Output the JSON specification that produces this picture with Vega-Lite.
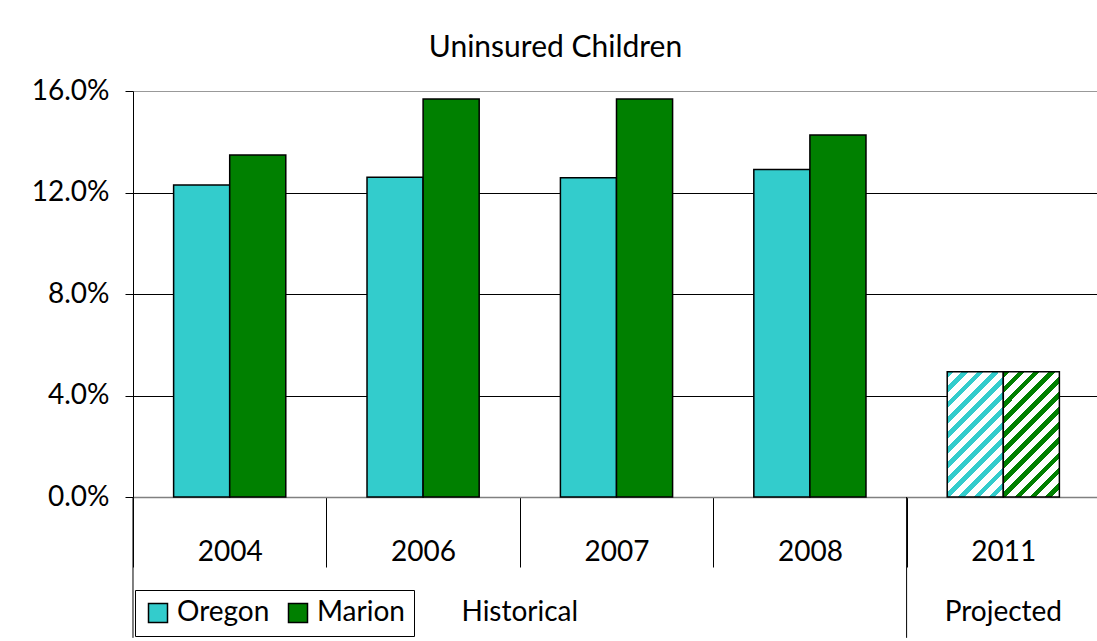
{
  "$schema": "https://vega.github.io/schema/vega-lite/v6.json",
  "autosize": "none",
  "width": 967,
  "height": 406,
  "padding": {"left": 133, "top": 91, "right": 0, "bottom": 144},
  "background": "white",
  "title": {"text": "Uninsured Children", "fontSize": 30, "font": "Lato", "fontWeight": "normal", "color": "black", "baseline": "alphabetic", "offset": -10, "dx": -61},
  "config": {
    "font": "Lato",
    "view": {"stroke": null},
    "legend": {"symbolStrokeColor": "black", "symbolStrokeWidth": 1.5}
  },
  "datasets": {
    "bars": [
      {"year": "2004", "series": "Oregon", "value": 0.123, "type": "Historical"},
      {"year": "2004", "series": "Marion", "value": 0.1348, "type": "Historical"},
      {"year": "2006", "series": "Oregon", "value": 0.126, "type": "Historical"},
      {"year": "2006", "series": "Marion", "value": 0.1568, "type": "Historical"},
      {"year": "2007", "series": "Oregon", "value": 0.1258, "type": "Historical"},
      {"year": "2007", "series": "Marion", "value": 0.1568, "type": "Historical"},
      {"year": "2008", "series": "Oregon", "value": 0.1291, "type": "Historical"},
      {"year": "2008", "series": "Marion", "value": 0.1427, "type": "Historical"},
      {"year": "2011", "series": "Oregon", "value": 0.0494, "type": "Projected"},
      {"year": "2011", "series": "Marion", "value": 0.0494, "type": "Projected"}
    ]
  },
  "encoding": {
    "x": {"field": "year", "type": "nominal", "sort": ["2004", "2006", "2007", "2008", "2011"],
      "scale": {"domain": ["2004", "2006", "2007", "2008", "2011"], "paddingInner": 0.42, "paddingOuter": 0.21},
      "axis": {"title": null, "labelAngle": 0, "labelFontSize": 28, "labelColor": "black", "labelFont": "Lato",
        "domainColor": "#808080", "domainWidth": 1.5, "tickColor": "black", "tickSize": 70, "tickOffset": -96.7, "labelOffset": 96.7, "labelPadding": -29}
    }
  },
  "layer": [
    {
      "data": {"name": "bars"},
      "transform": [{"filter": "datum.type === 'Historical'"}],
      "mark": {"type": "bar", "stroke": "black", "strokeWidth": 1.5},
      "encoding": {
        "y": {"field": "value", "type": "quantitative",
          "scale": {"domain": [0, 0.16], "nice": false},
          "axis": {"title": null, "values": [0, 0.04, 0.08, 0.12, 0.16], "format": ".1%", "labelFontSize": 28, "labelColor": "black", "labelFont": "Lato",
            "domainColor": "black", "tickColor": "black", "tickSize": 8, "labelPadding": 16,
            "grid": true, "gridColor": {"condition": {"test": "datum.value >= 0.159", "value": "#999999"}, "value": "black"}, "gridWidth": 1, "gridOpacity": 1}
        },
        "xOffset": {"field": "series", "type": "nominal", "scale": {"domain": ["Oregon", "Marion"]}},
        "color": {"field": "series", "type": "nominal",
          "scale": {"domain": ["Oregon", "Marion"], "range": ["#33CCCC", "#008000"]},
          "legend": {"title": null, "orient": "none", "legendX": 2, "legendY": 499, "direction": "horizontal",
            "strokeColor": "black", "fillColor": "white", "padding": 9, "symbolType": "square", "symbolSize": 361,
            "labelFontSize": 28, "labelFont": "Lato", "labelColor": "black", "labelOffset": 5, "columnPadding": 14, "symbolOpacity": 1}
        }
      }
    },
    {
      "data": {"name": "bars"},
      "transform": [{"filter": "datum.type === 'Projected' && datum.series === 'Oregon'"}],
      "mark": {"type": "bar", "stroke": "black", "strokeWidth": 1.5,
        "fill": {"gradient": "linear", "x1": 0, "y1": 0, "x2": 0.54, "y2": 1.206, "stops": [
          {"offset": 0, "color": "#33CCCC"}, {"offset": 0.0375, "color": "#33CCCC"}, {"offset": 0.0375, "color": "white"}, {"offset": 0.0833, "color": "white"},
          {"offset": 0.0833, "color": "#33CCCC"}, {"offset": 0.1208, "color": "#33CCCC"}, {"offset": 0.1208, "color": "white"}, {"offset": 0.1667, "color": "white"},
          {"offset": 0.1667, "color": "#33CCCC"}, {"offset": 0.2042, "color": "#33CCCC"}, {"offset": 0.2042, "color": "white"}, {"offset": 0.25, "color": "white"},
          {"offset": 0.25, "color": "#33CCCC"}, {"offset": 0.2875, "color": "#33CCCC"}, {"offset": 0.2875, "color": "white"}, {"offset": 0.3333, "color": "white"},
          {"offset": 0.3333, "color": "#33CCCC"}, {"offset": 0.3708, "color": "#33CCCC"}, {"offset": 0.3708, "color": "white"}, {"offset": 0.4167, "color": "white"},
          {"offset": 0.4167, "color": "#33CCCC"}, {"offset": 0.4542, "color": "#33CCCC"}, {"offset": 0.4542, "color": "white"}, {"offset": 0.5, "color": "white"},
          {"offset": 0.5, "color": "#33CCCC"}, {"offset": 0.5375, "color": "#33CCCC"}, {"offset": 0.5375, "color": "white"}, {"offset": 0.5833, "color": "white"},
          {"offset": 0.5833, "color": "#33CCCC"}, {"offset": 0.6208, "color": "#33CCCC"}, {"offset": 0.6208, "color": "white"}, {"offset": 0.6667, "color": "white"},
          {"offset": 0.6667, "color": "#33CCCC"}, {"offset": 0.7042, "color": "#33CCCC"}, {"offset": 0.7042, "color": "white"}, {"offset": 0.75, "color": "white"},
          {"offset": 0.75, "color": "#33CCCC"}, {"offset": 0.7875, "color": "#33CCCC"}, {"offset": 0.7875, "color": "white"}, {"offset": 0.8333, "color": "white"},
          {"offset": 0.8333, "color": "#33CCCC"}, {"offset": 0.8708, "color": "#33CCCC"}, {"offset": 0.8708, "color": "white"}, {"offset": 0.9167, "color": "white"},
          {"offset": 0.9167, "color": "#33CCCC"}, {"offset": 0.9542, "color": "#33CCCC"}, {"offset": 0.9542, "color": "white"}, {"offset": 1, "color": "white"}
        ]}},
      "encoding": {
        "y": {"field": "value", "type": "quantitative", "title": null},
        "xOffset": {"field": "series", "type": "nominal", "scale": {"domain": ["Oregon", "Marion"]}}
      }
    },
    {
      "data": {"name": "bars"},
      "transform": [{"filter": "datum.type === 'Projected' && datum.series === 'Marion'"}],
      "mark": {"type": "bar", "stroke": "black", "strokeWidth": 1.5,
        "fill": {"gradient": "linear", "x1": 0, "y1": 0, "x2": 0.54, "y2": 1.206, "stops": [
          {"offset": 0, "color": "#008000"}, {"offset": 0.0375, "color": "#008000"}, {"offset": 0.0375, "color": "white"}, {"offset": 0.0833, "color": "white"},
          {"offset": 0.0833, "color": "#008000"}, {"offset": 0.1208, "color": "#008000"}, {"offset": 0.1208, "color": "white"}, {"offset": 0.1667, "color": "white"},
          {"offset": 0.1667, "color": "#008000"}, {"offset": 0.2042, "color": "#008000"}, {"offset": 0.2042, "color": "white"}, {"offset": 0.25, "color": "white"},
          {"offset": 0.25, "color": "#008000"}, {"offset": 0.2875, "color": "#008000"}, {"offset": 0.2875, "color": "white"}, {"offset": 0.3333, "color": "white"},
          {"offset": 0.3333, "color": "#008000"}, {"offset": 0.3708, "color": "#008000"}, {"offset": 0.3708, "color": "white"}, {"offset": 0.4167, "color": "white"},
          {"offset": 0.4167, "color": "#008000"}, {"offset": 0.4542, "color": "#008000"}, {"offset": 0.4542, "color": "white"}, {"offset": 0.5, "color": "white"},
          {"offset": 0.5, "color": "#008000"}, {"offset": 0.5375, "color": "#008000"}, {"offset": 0.5375, "color": "white"}, {"offset": 0.5833, "color": "white"},
          {"offset": 0.5833, "color": "#008000"}, {"offset": 0.6208, "color": "#008000"}, {"offset": 0.6208, "color": "white"}, {"offset": 0.6667, "color": "white"},
          {"offset": 0.6667, "color": "#008000"}, {"offset": 0.7042, "color": "#008000"}, {"offset": 0.7042, "color": "white"}, {"offset": 0.75, "color": "white"},
          {"offset": 0.75, "color": "#008000"}, {"offset": 0.7875, "color": "#008000"}, {"offset": 0.7875, "color": "white"}, {"offset": 0.8333, "color": "white"},
          {"offset": 0.8333, "color": "#008000"}, {"offset": 0.8708, "color": "#008000"}, {"offset": 0.8708, "color": "white"}, {"offset": 0.9167, "color": "white"},
          {"offset": 0.9167, "color": "#008000"}, {"offset": 0.9542, "color": "#008000"}, {"offset": 0.9542, "color": "white"}, {"offset": 1, "color": "white"}
        ]}},
      "encoding": {
        "y": {"field": "value", "type": "quantitative", "title": null},
        "xOffset": {"field": "series", "type": "nominal", "scale": {"domain": ["Oregon", "Marion"]}}
      }
    },
    {
      "data": {"values": [{"year": "2004"}, {"year": "2011"}]},
      "mark": {"type": "rule", "color": "black", "strokeWidth": 1},
      "encoding": {
        "x": {"field": "year", "type": "nominal", "bandPosition": -0.3621},
        "y": {"datum": 0, "type": "quantitative", "title": null},
        "y2": {"datum": -0.0555}
      }
    },
    {
      "data": {"values": [{"year": "2007", "label": "Historical"}]},
      "mark": {"type": "text", "fontSize": 28, "font": "Lato", "color": "black", "baseline": "middle", "align": "center"},
      "encoding": {
        "x": {"field": "year", "type": "nominal", "bandPosition": -0.3621},
        "y": {"datum": -0.0457, "type": "quantitative", "title": null},
        "text": {"field": "label"}
      }
    },
    {
      "data": {"values": [{"year": "2011", "label": "Projected"}]},
      "mark": {"type": "text", "fontSize": 28, "font": "Lato", "color": "black", "baseline": "middle", "align": "center"},
      "encoding": {
        "x": {"field": "year", "type": "nominal", "bandPosition": 0.5},
        "y": {"datum": -0.0457, "type": "quantitative", "title": null},
        "text": {"field": "label"}
      }
    }
  ]
}
